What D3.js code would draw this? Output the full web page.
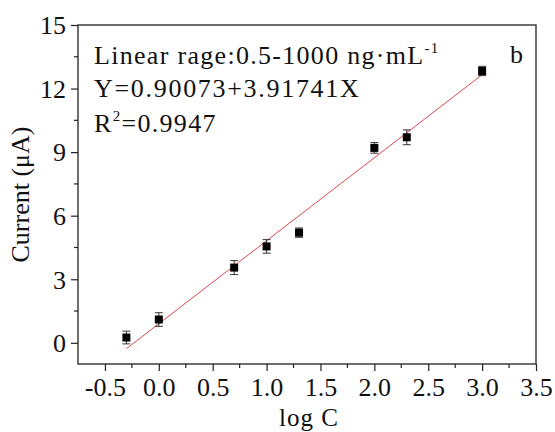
<!DOCTYPE html>
<html>
<head>
<meta charset="utf-8">
<script src="https://cdn.jsdelivr.net/npm/d3@7"></script>
<style>
  body { margin: 0; background: #fff; }
  svg text { font-family: "Liberation Serif", "Times New Roman", serif; fill: #111; }
</style>
</head>
<body>
<div id="chart"></div>
<script>
// calibration data: log C vs current, with error bars
const logC = [-0.301, 0, 0.699, 1, 1.301, 2, 2.301, 3];
const current = [0.25, 1.1, 3.55, 4.55, 5.2, 9.2, 9.7, 12.83];
const errors = [0.3, 0.32, 0.33, 0.32, 0.22, 0.25, 0.35, 0.22];
const fitIntercept = 0.90073;
const fitSlope = 3.91741;
const xTicks = [-0.5, 0.0, 0.5, 1.0, 1.5, 2.0, 2.5, 3.0, 3.5];
const yTicks = [0, 3, 6, 9, 12, 15];

const W = 555, H = 432;
const margin = { top: 25, right: 19, bottom: 68, left: 78 };
const width = W - margin.left - margin.right;
const height = H - margin.top - margin.bottom;

const svg = d3.select("#chart").append("svg")
    .attr("width", W)
    .attr("height", H);

const x = d3.scaleLinear().domain([-0.75, 3.5]).range([0, width]);
const y = d3.scaleLinear().domain([-1, 15]).range([height, 0]);

const g = svg.append("g")
    .attr("transform", `translate(${margin.left},${margin.top})`);

// frame
g.append("rect")
    .attr("width", width).attr("height", height)
    .attr("fill", "none").attr("stroke", "#222").attr("stroke-width", 1.3);

// minor ticks (between the labelled ones)
const xMinor = [-0.25, 0.25, 0.75, 1.25, 1.75, 2.25, 2.75, 3.25];
g.selectAll(".xminor").data(xMinor).enter().append("line")
    .attr("x1", d => x(d)).attr("x2", d => x(d))
    .attr("y1", height).attr("y2", height + 4)
    .attr("stroke", "#222").attr("stroke-width", 1.2);
const yMinor = [1.5, 4.5, 7.5, 10.5, 13.5];
g.selectAll(".yminor").data(yMinor).enter().append("line")
    .attr("x1", -4).attr("x2", 0)
    .attr("y1", d => y(d)).attr("y2", d => y(d))
    .attr("stroke", "#222").attr("stroke-width", 1.2);

// axes
const fmtX = d => d3.format(".1f")(d).replace("−", "-");
const xAxis = g.append("g")
    .attr("transform", `translate(0,${height})`)
    .call(d3.axisBottom(x).tickValues(xTicks).tickFormat(fmtX).tickSize(7));
const yAxis = g.append("g")
    .call(d3.axisLeft(y).tickValues(yTicks).tickFormat(d3.format("d")).tickSize(7).tickPadding(5));
[xAxis, yAxis].forEach(a => {
    a.select(".domain").remove();
    a.selectAll("line").attr("stroke", "#222").attr("stroke-width", 1.2);
    a.selectAll("text").attr("font-size", 26).attr("fill", "#111")
        .style("font-family", '"Liberation Serif", serif');
});
xAxis.selectAll("text").attr("y", 32).attr("dy", 0);
yAxis.selectAll("text").attr("dy", "0.34em");

// fit line
g.append("line")
    .attr("x1", x(logC[0])).attr("x2", x(logC[logC.length - 1]))
    .attr("y1", y(fitIntercept + fitSlope * logC[0]))
    .attr("y2", y(fitIntercept + fitSlope * logC[logC.length - 1]))
    .attr("stroke", "#e0474c").attr("stroke-width", 1);

// error bars
const pts = logC.map((d, i) => ({ x: d, y: current[i], e: errors[i] }));
const eb = g.selectAll(".err").data(pts).enter().append("g").attr("stroke", "#333").attr("stroke-width", 1);
eb.append("line")
    .attr("x1", d => x(d.x)).attr("x2", d => x(d.x))
    .attr("y1", d => y(d.y - d.e)).attr("y2", d => y(d.y + d.e));
eb.append("line")
    .attr("x1", d => x(d.x) - 4).attr("x2", d => x(d.x) + 4)
    .attr("y1", d => y(d.y - d.e)).attr("y2", d => y(d.y - d.e));
eb.append("line")
    .attr("x1", d => x(d.x) - 4).attr("x2", d => x(d.x) + 4)
    .attr("y1", d => y(d.y + d.e)).attr("y2", d => y(d.y + d.e));

// markers
g.selectAll(".pt").data(pts).enter().append("rect")
    .attr("x", d => x(d.x) - 4).attr("y", d => y(d.y) - 4)
    .attr("width", 8).attr("height", 8)
    .attr("fill", "#000");

// annotations
const t1 = svg.append("text").attr("x", 94).attr("y", 64).attr("font-size", 26).attr("letter-spacing", 1.3);
t1.append("tspan").text("Linear rage:0.5-1000 ng·mL");
t1.append("tspan").attr("font-size", 15).attr("dy", -11).text("-1");
svg.append("text").attr("x", 94).attr("y", 97).attr("font-size", 26).attr("letter-spacing", 1.7)
    .text("Y=0.90073+3.91741X");
const t3 = svg.append("text").attr("x", 94).attr("y", 132).attr("font-size", 26).attr("letter-spacing", 1.3);
t3.append("tspan").text("R");
t3.append("tspan").attr("font-size", 15).attr("dy", -11).text("2");
t3.append("tspan").attr("dy", 11).text("=0.9947");
svg.append("text").attr("x", 510).attr("y", 63).attr("font-size", 26).text("b");

// axis titles
svg.append("text")
    .attr("x", margin.left + width / 2 + 2).attr("y", 426)
    .attr("text-anchor", "middle").attr("font-size", 25).attr("letter-spacing", 1).text("log C");
svg.append("text")
    .attr("transform", `translate(29,${margin.top + height / 2}) rotate(-90)`)
    .attr("text-anchor", "middle").attr("font-size", 26).text("Current (μA)");
</script>
</body>
</html>
